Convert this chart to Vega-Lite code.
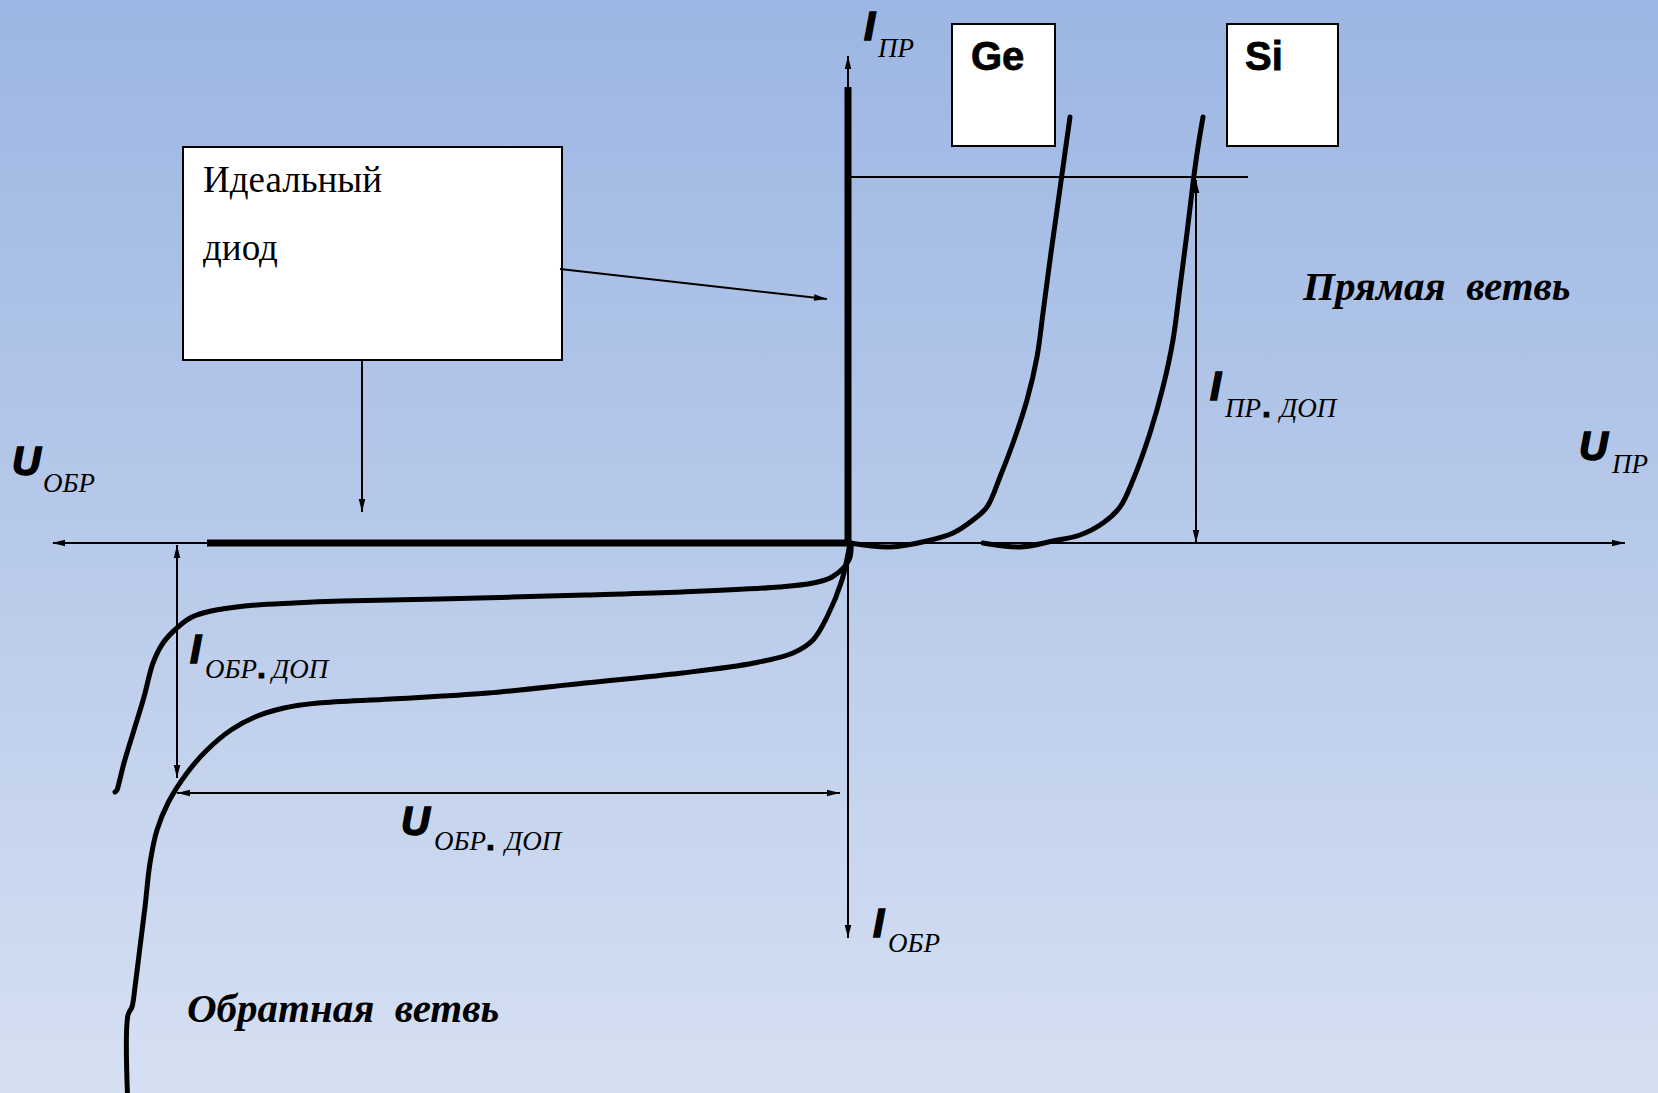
{
  "$schema": "https://vega.github.io/schema/vega-lite/v6.json",
  "width": 1658,
  "height": 1093,
  "padding": 0,
  "autosize": {"type": "fit", "contains": "padding"},
  "config": {"view": {"stroke": null}},
  "datasets": {
    "bg": [{"u": -848, "u2": 810, "i": -550, "i2": 543}],
    "boxes": [
      {"name": "ideal", "u": -665, "u2": -286, "i": 183, "i2": 396},
      {"name": "Ge", "u": 104, "u2": 207, "i": 397, "i2": 519},
      {"name": "Si", "u": 379, "u2": 490, "i": 397, "i2": 519}
    ],
    "segs": [
      {"name": "U axis", "u": -795, "u2": 777, "i": 0, "i2": 0},
      {"name": "I axis", "u": 0, "u2": 0, "i": 487, "i2": -395},
      {"name": "level", "u": 3, "u2": 400, "i": 366, "i2": 366},
      {"name": "Ipr dop", "u": 348, "u2": 348, "i": 363, "i2": 0},
      {"name": "Iobr dop", "u": -671, "u2": -671, "i": -2, "i2": -235},
      {"name": "Uobr dop", "u": -671, "u2": -8, "i": -250, "i2": -250},
      {"name": "box arrow 1", "u": -288, "u2": -21, "i": 274, "i2": 244},
      {"name": "box arrow 2", "u": -486, "u2": -486, "i": 183, "i2": 31}
    ],
    "heads": [
      {"u": -796, "i": 0, "a": 270},
      {"u": 777, "i": 0, "a": 90},
      {"u": 0, "i": 487, "a": 0},
      {"u": 0, "i": -395, "a": 180},
      {"u": 348, "i": 363, "a": 0},
      {"u": 348, "i": 0, "a": 180},
      {"u": -671, "i": -2, "a": 0},
      {"u": -671, "i": -235, "a": 180},
      {"u": -671, "i": -250, "a": 270},
      {"u": -8, "i": -250, "a": 90},
      {"u": -21, "i": 244, "a": 96.5},
      {"u": -486, "i": 31, "a": 180}
    ],
    "ideal": [
      {"k": 0, "u": -641, "i": 0},
      {"k": 1, "u": 0, "i": 0},
      {"k": 2, "u": 0, "i": 456}
    ],
    "curves": [
      {"c": "Ge fwd", "k": 0, "u": 2, "i": 0},
      {"c": "Ge fwd", "k": 1, "u": 42, "i": -4},
      {"c": "Ge fwd", "k": 2, "u": 79, "i": 2},
      {"c": "Ge fwd", "k": 3, "u": 105, "i": 10},
      {"c": "Ge fwd", "k": 4, "u": 125, "i": 23},
      {"c": "Ge fwd", "k": 5, "u": 139, "i": 36},
      {"c": "Ge fwd", "k": 6, "u": 152, "i": 66},
      {"c": "Ge fwd", "k": 7, "u": 165, "i": 100},
      {"c": "Ge fwd", "k": 8, "u": 179, "i": 143},
      {"c": "Ge fwd", "k": 9, "u": 189, "i": 186},
      {"c": "Ge fwd", "k": 10, "u": 195, "i": 230},
      {"c": "Ge fwd", "k": 11, "u": 202, "i": 283},
      {"c": "Ge fwd", "k": 12, "u": 209, "i": 333},
      {"c": "Ge fwd", "k": 13, "u": 215, "i": 376},
      {"c": "Ge fwd", "k": 14, "u": 222, "i": 426},
      {"c": "Si fwd", "k": 0, "u": 135, "i": 0},
      {"c": "Si fwd", "k": 1, "u": 172, "i": -4},
      {"c": "Si fwd", "k": 2, "u": 205, "i": 2},
      {"c": "Si fwd", "k": 3, "u": 232, "i": 8},
      {"c": "Si fwd", "k": 4, "u": 255, "i": 20},
      {"c": "Si fwd", "k": 5, "u": 272, "i": 36},
      {"c": "Si fwd", "k": 6, "u": 285, "i": 63},
      {"c": "Si fwd", "k": 7, "u": 302, "i": 110},
      {"c": "Si fwd", "k": 8, "u": 315, "i": 156},
      {"c": "Si fwd", "k": 9, "u": 325, "i": 203},
      {"c": "Si fwd", "k": 10, "u": 332, "i": 256},
      {"c": "Si fwd", "k": 11, "u": 339, "i": 310},
      {"c": "Si fwd", "k": 12, "u": 345, "i": 360},
      {"c": "Si fwd", "k": 13, "u": 350, "i": 396},
      {"c": "Si fwd", "k": 14, "u": 355, "i": 426},
      {"c": "Ge rev", "k": 0, "u": 3, "i": 0},
      {"c": "Ge rev", "k": 1, "u": 1, "i": -17},
      {"c": "Ge rev", "k": 2, "u": -16, "i": -34},
      {"c": "Ge rev", "k": 3, "u": -35, "i": -40},
      {"c": "Ge rev", "k": 4, "u": -69, "i": -44},
      {"c": "Ge rev", "k": 5, "u": -166, "i": -49},
      {"c": "Ge rev", "k": 6, "u": -263, "i": -52},
      {"c": "Ge rev", "k": 7, "u": -409, "i": -56},
      {"c": "Ge rev", "k": 8, "u": -506, "i": -58},
      {"c": "Ge rev", "k": 9, "u": -554, "i": -60},
      {"c": "Ge rev", "k": 10, "u": -603, "i": -63},
      {"c": "Ge rev", "k": 11, "u": -637, "i": -68},
      {"c": "Ge rev", "k": 12, "u": -656, "i": -74},
      {"c": "Ge rev", "k": 13, "u": -670, "i": -84},
      {"c": "Ge rev", "k": 14, "u": -685, "i": -100},
      {"c": "Ge rev", "k": 15, "u": -695, "i": -120},
      {"c": "Ge rev", "k": 16, "u": -704, "i": -154},
      {"c": "Ge rev", "k": 17, "u": -714, "i": -187},
      {"c": "Ge rev", "k": 18, "u": -724, "i": -220},
      {"c": "Ge rev", "k": 19, "u": -729, "i": -240},
      {"c": "Ge rev", "k": 20, "u": -731, "i": -247},
      {"c": "Ge rev", "k": 21, "u": -733, "i": -249},
      {"c": "Si rev", "k": 0, "u": 2, "i": 0},
      {"c": "Si rev", "k": 1, "u": -6, "i": -37},
      {"c": "Si rev", "k": 2, "u": -21, "i": -74},
      {"c": "Si rev", "k": 3, "u": -35, "i": -97},
      {"c": "Si rev", "k": 4, "u": -55, "i": -110},
      {"c": "Si rev", "k": 5, "u": -94, "i": -120},
      {"c": "Si rev", "k": 6, "u": -166, "i": -130},
      {"c": "Si rev", "k": 7, "u": -263, "i": -140},
      {"c": "Si rev", "k": 8, "u": -360, "i": -150},
      {"c": "Si rev", "k": 9, "u": -457, "i": -156},
      {"c": "Si rev", "k": 10, "u": -530, "i": -160},
      {"c": "Si rev", "k": 11, "u": -564, "i": -165},
      {"c": "Si rev", "k": 12, "u": -593, "i": -174},
      {"c": "Si rev", "k": 13, "u": -617, "i": -187},
      {"c": "Si rev", "k": 14, "u": -641, "i": -207},
      {"c": "Si rev", "k": 15, "u": -661, "i": -230},
      {"c": "Si rev", "k": 16, "u": -680, "i": -260},
      {"c": "Si rev", "k": 17, "u": -691, "i": -287},
      {"c": "Si rev", "k": 18, "u": -698, "i": -320},
      {"c": "Si rev", "k": 19, "u": -703, "i": -364},
      {"c": "Si rev", "k": 20, "u": -708, "i": -404},
      {"c": "Si rev", "k": 21, "u": -713, "i": -444},
      {"c": "Si rev", "k": 22, "u": -716, "i": -464},
      {"c": "Si rev", "k": 23, "u": -720, "i": -472},
      {"c": "Si rev", "k": 24, "u": -720, "i": -565}
    ],
    "big": [
      {"t": "I", "u": 16, "i": 503},
      {"t": "U", "u": -836, "i": 68},
      {"t": "I", "u": -658, "i": -120},
      {"t": "I", "u": 362, "i": 143},
      {"t": "U", "u": 731, "i": 83},
      {"t": "U", "u": -447, "i": -292},
      {"t": "I", "u": 25, "i": -394}
    ],
    "sub": [
      {"t": "ПР", "u": 30, "i": 486},
      {"t": "ОБР", "u": -805, "i": 51},
      {"t": "ОБР", "u": -643, "i": -135},
      {"t": "ДОП", "u": -576, "i": -135},
      {"t": "ПР", "u": 377, "i": 126},
      {"t": "ДОП", "u": 432, "i": 126},
      {"t": "ПР", "u": 764, "i": 70},
      {"t": "ОБР", "u": -414, "i": -307},
      {"t": "ДОП", "u": -343, "i": -307},
      {"t": "ОБР", "u": 40, "i": -409}
    ],
    "dots": [
      {"t": ".", "u": -591, "i": -135},
      {"t": ".", "u": 414, "i": 126},
      {"t": ".", "u": -362, "i": -307}
    ],
    "chem": [
      {"t": "Ge", "u": 123, "i": 473},
      {"t": "Si", "u": 397, "i": 473}
    ],
    "boxtext": [
      {"t": "Идеальный", "u": -645, "i": 351},
      {"t": "диод", "u": -645, "i": 283}
    ],
    "branch": [
      {"t": "Прямая\u00a0\u00a0ветвь", "u": 455, "i": 243},
      {"t": "Обратная\u00a0\u00a0ветвь", "u": -661, "i": -479}
    ]
  },
  "encoding": {
    "x": {"field": "u", "type": "quantitative", "scale": {"domain": [-848, 810], "nice": false, "zero": false}, "axis": null},
    "y": {"field": "i", "type": "quantitative", "scale": {"domain": [-550, 543], "nice": false, "zero": false}, "axis": null}
  },
  "layer": [
    {
      "data": {"name": "bg"},
      "mark": {"type": "rect", "fill": {"gradient": "linear", "x1": 0, "y1": 0, "x2": 0, "y2": 1, "stops": [{"offset": 0, "color": "#9cb6e3"}, {"offset": 0.5, "color": "#b8caea"}, {"offset": 1, "color": "#d6e0f2"}]}},
      "encoding": {"x2": {"field": "u2"}, "y2": {"field": "i2"}}
    },
    {
      "data": {"name": "boxes"},
      "mark": {"type": "rect", "fill": "white", "stroke": "black", "strokeWidth": 2},
      "encoding": {"x2": {"field": "u2"}, "y2": {"field": "i2"}}
    },
    {
      "data": {"name": "segs"},
      "mark": {"type": "rule", "color": "black", "strokeWidth": 2},
      "encoding": {"x2": {"field": "u2"}, "y2": {"field": "i2"}}
    },
    {
      "data": {"name": "heads"},
      "mark": {"type": "point", "shape": "M0,0L0.5,2L-0.5,2Z", "filled": true, "size": 169, "color": "black", "opacity": 1, "strokeWidth": 0},
      "encoding": {"angle": {"field": "a", "type": "quantitative", "scale": null}}
    },
    {
      "data": {"name": "ideal"},
      "mark": {"type": "line", "color": "black", "strokeWidth": 7, "strokeCap": "butt", "strokeJoin": "miter", "clip": true},
      "encoding": {"order": {"field": "k", "type": "quantitative"}}
    },
    {
      "data": {"name": "curves"},
      "mark": {"type": "line", "color": "black", "strokeWidth": 5, "interpolate": "catmull-rom", "strokeCap": "round", "strokeJoin": "round", "clip": true},
      "encoding": {"detail": {"field": "c"}, "order": {"field": "k", "type": "quantitative"}}
    },
    {
      "data": {"name": "big"},
      "mark": {"type": "text", "font": "Liberation Sans", "fontSize": 40, "fontWeight": "bold", "fontStyle": "italic", "align": "left", "baseline": "alphabetic", "color": "black", "stroke": "black", "strokeWidth": 1.5},
      "encoding": {"text": {"field": "t"}}
    },
    {
      "data": {"name": "sub"},
      "mark": {"type": "text", "font": "Liberation Serif", "fontSize": 27, "fontStyle": "italic", "align": "left", "baseline": "alphabetic", "color": "black"},
      "encoding": {"text": {"field": "t"}}
    },
    {
      "data": {"name": "dots"},
      "mark": {"type": "text", "font": "Liberation Sans", "fontSize": 32, "fontWeight": "bold", "align": "left", "baseline": "alphabetic", "color": "black", "stroke": "black", "strokeWidth": 1},
      "encoding": {"text": {"field": "t"}}
    },
    {
      "data": {"name": "chem"},
      "mark": {"type": "text", "font": "Liberation Sans", "fontSize": 40, "fontWeight": "bold", "align": "left", "baseline": "alphabetic", "color": "black", "stroke": "black", "strokeWidth": 0.8},
      "encoding": {"text": {"field": "t"}}
    },
    {
      "data": {"name": "boxtext"},
      "mark": {"type": "text", "font": "Liberation Serif", "fontSize": 37, "align": "left", "baseline": "alphabetic", "color": "black"},
      "encoding": {"text": {"field": "t"}}
    },
    {
      "data": {"name": "branch"},
      "mark": {"type": "text", "font": "Liberation Serif", "fontSize": 41, "fontWeight": "bold", "fontStyle": "italic", "align": "left", "baseline": "alphabetic", "color": "black"},
      "encoding": {"text": {"field": "t"}}
    }
  ]
}
